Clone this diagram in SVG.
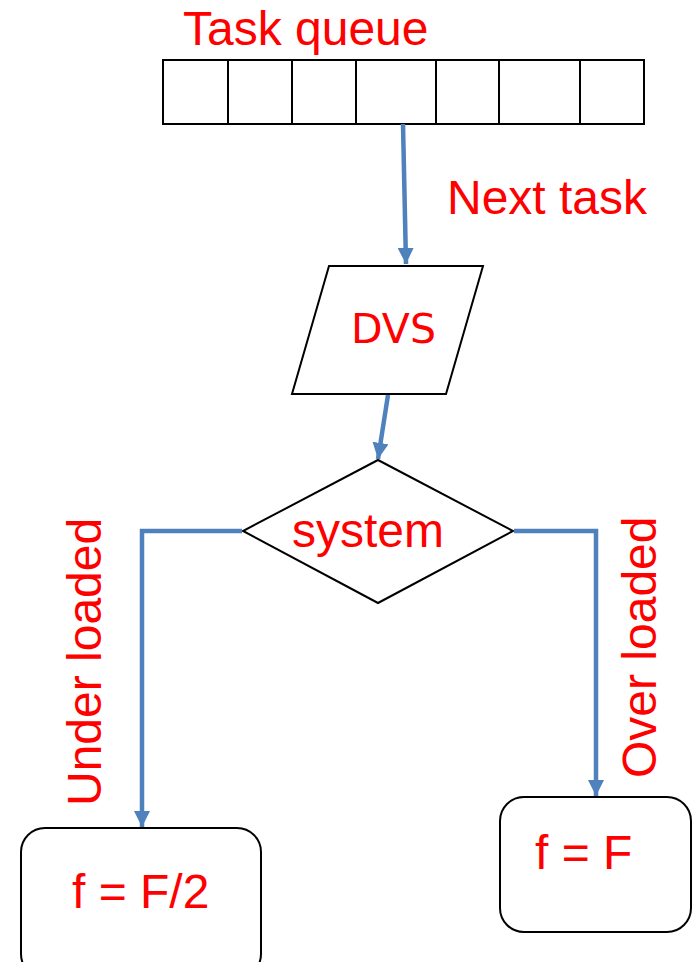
<svg xmlns="http://www.w3.org/2000/svg" width="695" height="962" viewBox="0 0 695 962">
<style>
.t{font-family:"Liberation Sans",Arial,sans-serif;fill:#ff0000;font-size:48px}
.s{fill:#fff;stroke:#000;stroke-width:2}
.c{fill:none;stroke:#4f81bd;stroke-width:4.5}
</style>
<defs>
<marker id="ah" viewBox="0 0 10 10" refX="10" refY="5" markerWidth="3.6" markerHeight="3.6" markerUnits="strokeWidth" orient="auto">
<path d="M0,0 L10,5 L0,10 z" fill="#4f81bd"/>
</marker>
</defs>
<rect width="695" height="962" fill="#fff"/>
<g id="queue">
<text class="t" x="183" y="45">Task queue</text>
<rect class="s" x="163" y="60" width="481" height="64"/>
<path d="M228,60V124M292,60V124M356,60V124M436,60V124M499,60V124M580,60V124" stroke="#000" stroke-width="2"/>
</g>
<g id="dvs">
<polygon class="s" points="329,266 483,266 446,394 292,394"/>
<text x="351" y="343" font-family="'Comic Sans MS','DejaVu Sans',sans-serif" font-size="41" fill="#ff0000">DVS</text>
</g>
<g id="system">
<polygon class="s" points="378,460 513,531 378,603 243,531"/>
<text class="t" x="292" y="547">system</text>
</g>
<g id="half">
<rect class="s" x="21" y="828" width="240" height="150" rx="24"/>
<text class="t" x="72" y="908">f = F/2</text>
</g>
<g id="full">
<rect class="s" x="500" y="797" width="191" height="135" rx="24"/>
<text class="t" x="535" y="869">f = F</text>
</g>
<g id="connectors">
<path class="c" d="M403,124 L406,264" marker-end="url(#ah)"/>
<path class="c" d="M388,395 L378,459" marker-end="url(#ah)"/>
<path class="c" d="M242,531 H142 V827" marker-end="url(#ah)"/>
<path class="c" d="M514,531 H596 V796" marker-end="url(#ah)"/>
</g>
<g id="labels">
<text class="t" x="447" y="214">Next task</text>
<text class="t" transform="translate(101,806) rotate(-90)">Under loaded</text>
<text class="t" transform="translate(656,778) rotate(-90)">Over loaded</text>
</g>
</svg>
